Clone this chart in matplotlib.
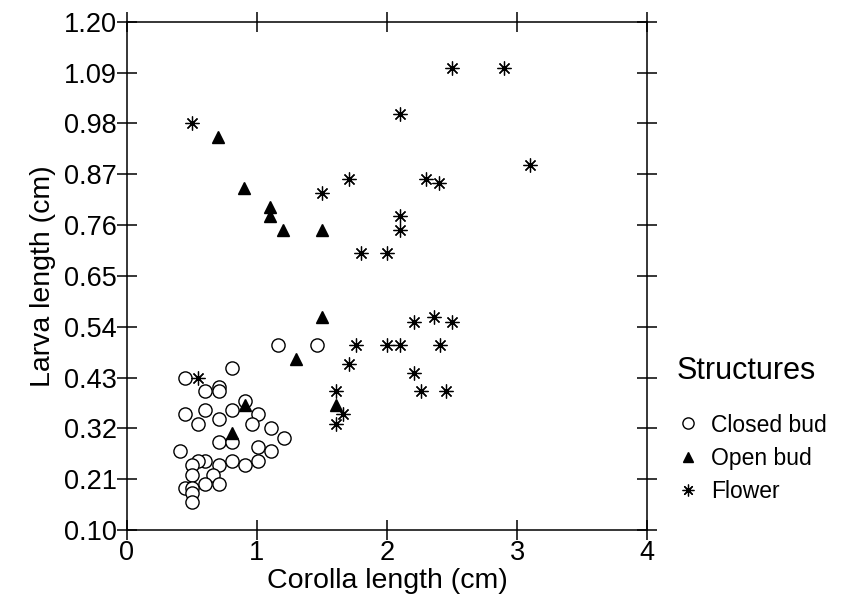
import matplotlib
matplotlib.use("Agg")
import matplotlib.pyplot as plt
import numpy as np

plt.rcParams['font.family'] = ['Liberation Sans', 'DejaVu Sans']

# closed bud (circles)
closed_x = [1.16, 1.46, 0.81, 0.45, 0.71, 0.71, 0.60, 0.91, 0.45, 0.60, 0.71, 0.81,
            1.01, 0.55, 0.96, 1.11, 1.21, 0.71, 0.81, 0.41, 1.01, 1.11, 0.60, 0.55,
            0.71, 0.81, 0.91, 1.01, 0.50, 0.50, 0.66, 0.60, 0.71, 0.45, 0.50, 0.50, 0.50]
closed_y = [0.50, 0.50, 0.45, 0.43, 0.41, 0.40, 0.40, 0.38, 0.35, 0.36, 0.34, 0.36,
            0.35, 0.33, 0.33, 0.32, 0.30, 0.29, 0.29, 0.27, 0.28, 0.27, 0.25, 0.25,
            0.24, 0.25, 0.24, 0.25, 0.24, 0.22, 0.22, 0.20, 0.20, 0.19, 0.19, 0.18, 0.16]

# open bud (triangles)
open_x = [1.30, 0.91, 0.81, 0.70, 0.90, 1.10, 1.10, 1.20, 1.50, 1.50, 1.61]
open_y = [0.47, 0.37, 0.31, 0.95, 0.84, 0.80, 0.78, 0.75, 0.75, 0.56, 0.37]

# flower (asterisks)
flower_x = [0.50, 1.50, 1.71, 2.30, 2.40, 2.10, 2.10, 1.80, 2.00, 2.90, 2.50, 3.10,
            2.10, 2.21, 2.36, 2.50, 1.76, 2.00, 2.10, 2.41, 1.71, 2.21, 2.26, 2.45,
            1.61, 1.66, 1.61, 0.55]
flower_y = [0.98, 0.83, 0.86, 0.86, 0.85, 0.78, 0.75, 0.70, 0.70, 1.10, 1.10, 0.89,
            1.00, 0.55, 0.56, 0.55, 0.50, 0.50, 0.50, 0.50, 0.46, 0.44, 0.40, 0.40,
            0.40, 0.35, 0.33, 0.43]

yticks = np.round(np.arange(0.10, 1.2001, 0.11), 2)
xticks = [0, 1, 2, 3, 4]

fig = plt.figure(figsize=(8.45, 6.05), dpi=100)
ax = fig.add_axes([0.150, 0.124, 0.616, 0.840])

ax.plot(closed_x, closed_y, 'o', ms=9.5, mfc='white', mec='black', mew=1.0,
        linestyle='none', label='Closed bud')
ax.plot(open_x, open_y, '^', ms=8, color='black', linestyle='none', label='Open bud')
ax.plot(flower_x, flower_y, marker=(8, 2, 0), ms=10, color='black', mew=0.9,
        linestyle='none', label='Flower')

ax.set_xlim(0, 4)
ax.set_ylim(0.10, 1.20)
ax.set_xticks(xticks)
ax.set_yticks(yticks)
ax.set_yticklabels(['%.2f' % v for v in yticks])
ax.tick_params(direction='inout', length=14, width=1.1, labelsize=19.5,
               top=True, right=True, pad=0)
ax.tick_params(axis='x', pad=0)
for s in ax.spines.values():
    s.set_linewidth(1.1)

ax.set_xlabel('Corolla length (cm)', fontsize=20.5, labelpad=2)
ax.set_ylabel('Larva length (cm)', fontsize=20.5, labelpad=6)

leg = fig.legend(loc='upper left', bbox_to_anchor=(0.801, 0.412), frameon=False,
                 title='Structures', title_fontsize=22, fontsize=16.5,
                 handletextpad=0.5, handlelength=1.0, labelspacing=0.45,
                 borderaxespad=0, borderpad=0, markerscale=0.85)
leg._legend_box.align = 'left'
leg._legend_box.sep = 20

fig.savefig('out.png', dpi=100)
